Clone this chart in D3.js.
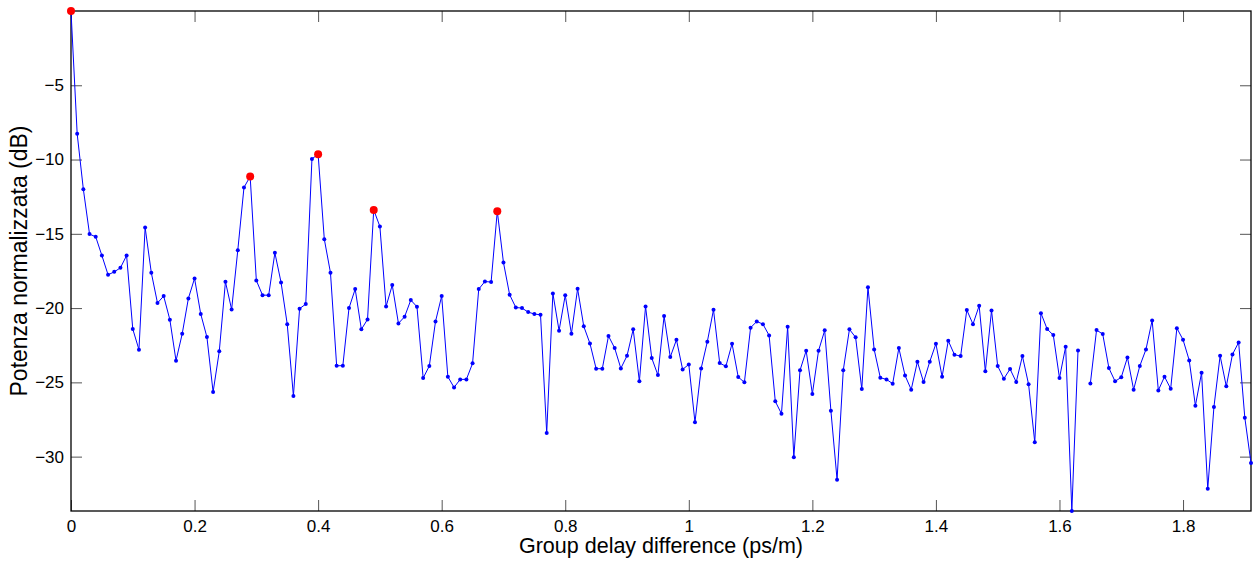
<!DOCTYPE html>
<html>
<head>
<meta charset="utf-8">
<script src="https://cdn.jsdelivr.net/npm/d3@7"></script>
<style>
  body { margin: 0; background: #fff; }
  svg text { font-family: "Liberation Sans", Arial, sans-serif; fill: #000; }
</style>
</head>
<body>
<div id="graph-container"></div>
<script>
// group delay difference step (ps/m) and normalized power (dB), one value per step
const step = 0.01;
const power = [
  0, -8.27, -12.0, -15.02, -15.2, -16.46, -17.76, -17.56, -17.29, -16.46,
  -21.41, -22.8, -14.57, -17.62, -19.66, -19.19, -20.78, -23.54, -21.73, -19.35,
  -18.0, -20.4, -21.95, -25.65, -22.91, -18.23, -20.09, -16.1, -11.88, -11.14,
  -18.14, -19.13, -19.13, -16.28, -18.27, -21.08, -25.92, -20.04, -19.73, -9.96,
  -9.64, -15.36, -17.62, -23.88, -23.88, -20.0, -18.72, -21.43, -20.76, -13.39,
  -14.51, -19.89, -18.45, -21.03, -20.58, -19.46, -19.91, -24.71, -23.9, -20.9,
  -19.19, -24.62, -25.34, -24.8, -24.8, -23.72, -18.72, -18.21, -18.25, -13.48,
  -16.93, -19.1, -19.96, -20.0, -20.27, -20.4, -20.45, -28.41, -19.01, -21.52,
  -19.13, -21.73, -18.7, -21.23, -22.38, -24.08, -24.08, -21.88, -22.69, -24.06,
  -23.21, -21.43, -24.93, -19.89, -23.36, -24.51, -20.54, -23.3, -22.13, -24.13,
  -23.79, -27.69, -24.06, -22.26, -20.11, -23.7, -23.92, -22.4, -24.64, -25.0,
  -21.32, -20.9, -21.08, -21.84, -26.28, -27.11, -21.26, -30.04, -24.19, -22.87,
  -25.78, -22.87, -21.5, -26.91, -31.55, -24.19, -21.43, -21.97, -25.45, -18.59,
  -22.78, -24.69, -24.8, -25.09, -22.69, -24.53, -25.49, -23.61, -24.98, -23.61,
  -22.4, -24.62, -22.2, -23.14, -23.23, -20.13, -21.08, -19.84, -24.26, -20.16,
  -23.9, -24.75, -24.1, -24.98, -23.23, -25.13, -29.04, -20.34, -21.41, -21.82,
  -24.71, -22.6, -33.66, -22.85, null, -25.07, -21.48, -21.75, -24.04, -24.93,
  -24.66, -23.32, -25.49, -23.9, -22.78, -20.83, -25.54, -24.62, -25.43, -21.35,
  -22.13, -23.52, -26.57, -24.35, -32.17, -26.66, -23.21, -25.27, -23.12, -22.31,
  -27.38, -30.43
];
// detected peaks (ps/m)
const peaks = [0, 0.29, 0.40, 0.49, 0.69];
const xTicks = [0, 0.2, 0.4, 0.6, 0.8, 1, 1.2, 1.4, 1.6, 1.8];
const yTicks = [-30, -25, -20, -15, -10, -5];

const width = 1256, height = 562;
const margin = { top: 11, right: 5, bottom: 51, left: 71 };
const innerW = width - margin.left - margin.right;
const innerH = height - margin.top - margin.bottom;

const data = power.map((p, i) => ({ x: i * step, y: p }));
const valid = data.filter(d => d.y !== null);
const peakData = peaks.map(px => data[Math.round(px / step)]);

const x = d3.scaleLinear()
            .domain([0, (power.length - 1) * step])
            .range([0, innerW]);
const y = d3.scaleLinear()
            .domain(d3.extent(valid, d => d.y))
            .range([innerH, 0]);

const svg = d3.select('#graph-container')
              .append('svg')
              .attr('width', width)
              .attr('height', height);

const g = svg.append('g')
             .attr('transform', `translate(${margin.left},${margin.top})`);

const fmtMinus = d => d3.format('')(d).replace('-', '\u2212');

// axes: ticks pointing inward on all four sides (matlab style)
function styleAxis(sel) {
  sel.attr('font-size', null).attr('font-family', null);
  sel.select('.domain').remove();
  sel.selectAll('.tick line').attr('stroke', '#555').attr('stroke-width', 1);
  sel.selectAll('.tick text').style('font-size', '17px');
}

g.append('g')
 .attr('transform', `translate(0,${innerH})`)
 .call(d3.axisBottom(x).tickValues(xTicks).tickSize(-11).tickPadding(9).tickFormat(d3.format('')))
 .call(styleAxis);

g.append('g')
 .call(d3.axisTop(x).tickValues(xTicks).tickSize(-11).tickFormat(''))
 .call(styleAxis);

g.append('g')
 .call(d3.axisLeft(y).tickValues(yTicks).tickSize(-11).tickPadding(7).tickFormat(fmtMinus))
 .call(styleAxis);

g.append('g')
 .attr('transform', `translate(${innerW},0)`)
 .call(d3.axisRight(y).tickValues(yTicks).tickSize(-11).tickFormat(''))
 .call(styleAxis);

// plot box
g.append('rect')
 .attr('x', 0)
 .attr('y', 0)
 .attr('width', innerW)
 .attr('height', innerH)
 .attr('fill', 'none')
 .attr('stroke', '#000')
 .attr('stroke-width', 1.3);

// series line + point markers
const line = d3.line()
               .defined(d => d.y !== null)
               .x(d => x(d.x))
               .y(d => y(d.y));

g.append('path')
 .datum(data)
 .attr('d', line)
 .attr('fill', 'none')
 .attr('stroke', '#0000ff')
 .attr('stroke-width', 1);

g.selectAll('circle.pt')
 .data(valid)
 .enter()
 .append('circle')
 .attr('class', 'pt')
 .attr('cx', d => x(d.x))
 .attr('cy', d => y(d.y))
 .attr('r', 2)
 .attr('fill', '#0000ff');

g.selectAll('circle.peak')
 .data(peakData)
 .enter()
 .append('circle')
 .attr('class', 'peak')
 .attr('cx', d => x(d.x))
 .attr('cy', d => y(d.y))
 .attr('r', 4)
 .attr('fill', '#ff0000');

// axis titles
svg.append('text')
   .style('font-size', '21.5px')
   .attr('text-anchor', 'middle')
   .attr('x', margin.left + innerW / 2)
   .attr('y', height - 9)
   .text('Group delay difference (ps/m)');

svg.append('text')
   .style('font-size', '23px')
   .attr('text-anchor', 'middle')
   .attr('transform', `translate(27,${margin.top + innerH / 2}) rotate(-90)`)
   .text('Potenza normalizzata (dB)');
</script>
</body>
</html>
